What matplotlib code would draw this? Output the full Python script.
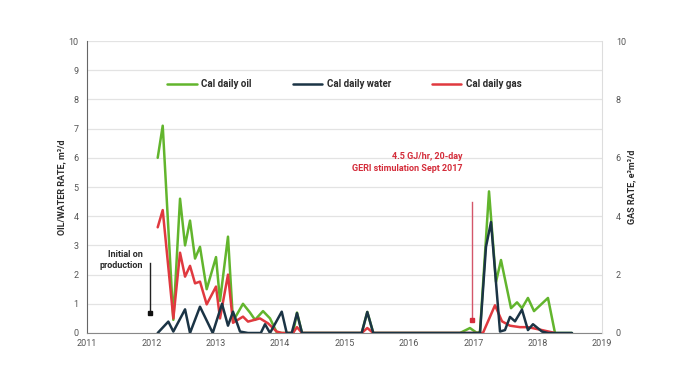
import matplotlib.pyplot as plt

plt.rcParams['font.family'] = ['Roboto', 'DejaVu Sans']

# decimal-year positions and rates
oil_t = [2012.098, 2012.176, 2012.341, 2012.445, 2012.523, 2012.600, 2012.678, 2012.755,
         2012.859, 2013.004, 2013.066, 2013.190, 2013.268, 2013.423, 2013.532, 2013.610,
         2013.734, 2013.843, 2013.947, 2014.025, 2014.200, 2014.262, 2014.340, 2015.267,
         2015.354, 2015.447, 2016.794, 2016.949, 2017.058, 2017.105, 2017.245, 2017.354,
         2017.431, 2017.587, 2017.680, 2017.757, 2017.850, 2017.944, 2018.161, 2018.270,
         2018.534]
oil = [6.0, 7.1, 0.45, 4.6, 3.0, 3.85, 2.55, 2.95,
       1.5, 2.6, 1.1, 3.3, 0.4, 1.0, 0.7, 0.45,
       0.75, 0.5, 0.02, 0.0, 0.0, 0.7, 0.0, 0.0,
       0.72, 0.0, 0.0, 0.17, 0.0, 0.05, 4.85, 1.75,
       2.5, 0.85, 1.05, 0.85, 1.2, 0.75, 1.2, 0.0,
       0.0]

water_t = [2012.098, 2012.263, 2012.341, 2012.523, 2012.600, 2012.755, 2012.953, 2013.097,
           2013.190, 2013.268, 2013.377, 2013.500, 2013.700, 2013.765, 2013.843, 2014.025,
           2014.102, 2014.180, 2014.262, 2014.340, 2015.267, 2015.354, 2015.447, 2017.105,
           2017.198, 2017.276, 2017.416, 2017.493, 2017.571, 2017.649, 2017.757, 2017.850,
           2017.928, 2018.068, 2018.161, 2018.534]
water = [0.0, 0.39, 0.05, 0.81, 0.0, 0.9, 0.0, 1.0,
         0.25, 0.73, 0.05, 0.0, 0.0, 0.3, 0.0, 0.73,
         0.0, 0.0, 0.68, 0.0, 0.0, 0.72, 0.0, 0.0,
         2.95, 3.8, 0.05, 0.1, 0.55, 0.4, 0.8, 0.1,
         0.3, 0.05, 0.0, 0.0]

gas_t = [2012.098, 2012.176, 2012.341, 2012.445, 2012.523, 2012.600, 2012.678, 2012.755,
         2012.859, 2013.004, 2013.066, 2013.190, 2013.268, 2013.423, 2013.501, 2013.687,
         2013.812, 2013.947, 2014.025, 2014.200, 2014.262, 2014.340, 2015.267, 2015.354,
         2015.447, 2017.151, 2017.338, 2017.447, 2017.571, 2017.726, 2017.850, 2018.068,
         2018.270]
gas = [3.62, 4.21, 0.5, 2.75, 1.93, 2.3, 1.7, 1.76,
       0.98, 1.59, 0.5, 2.0, 0.35, 0.56, 0.39, 0.5,
       0.33, 0.05, 0.0, 0.0, 0.2, 0.0, 0.0, 0.17,
       0.0, 0.0, 0.95, 0.4, 0.25, 0.2, 0.2, 0.1,
       0.0]

years = list(range(2011, 2020))
left_ticks = list(range(0, 11))
right_ticks = [0, 2, 4, 6, 8, 10]

green = '#62b52d'
navy = '#1b3445'
red = '#e0393f'
txt = '#2b2b2b'

fig = plt.figure(figsize=(6.89, 3.8), dpi=100)
ax1 = fig.add_axes([0.1263, 0.1237, 0.7474, 0.7683])
ax2 = ax1.twinx()

style = dict(lw=1.8, solid_joinstyle='round', solid_capstyle='round')
ax1.plot(oil_t, oil, color=green, label='Cal daily oil', zorder=3, **style)
ax1.plot(water_t, water, color=navy, label='Cal daily water', zorder=5, **style)
ax1.plot(gas_t, gas, color=red, label='Cal daily gas', zorder=4, **style)

ax1.set_xlim(2011, 2019)
ax1.set_ylim(0, 10)
ax2.set_ylim(0, 10)
ax1.set_xticks(years)
ax1.set_xticklabels([str(y) for y in years])
ax1.set_yticks(left_ticks)
ax2.set_yticks(right_ticks)

ax1.grid(axis='y', color='#e3e3e3', lw=0.9)
ax1.set_axisbelow(True)
for ax in (ax1, ax2):
    ax.spines['top'].set_visible(False)
    ax.tick_params(length=0, labelsize=6.5, labelcolor='#555555')
ax1.spines['left'].set_color('#666666')
ax1.spines['bottom'].set_color('#888888')
ax1.spines['right'].set_visible(False)
ax2.spines['left'].set_visible(False)
ax2.spines['bottom'].set_visible(False)
ax2.spines['right'].set_color('#dddddd')
ax1.tick_params(axis='y', pad=6)
ax1.tick_params(axis='x', pad=4)
ax2.tick_params(axis='y', pad=10)

ax1.set_ylabel('OIL/WATER RATE, m³/d', fontsize=6.5, fontweight='bold', color=txt, labelpad=2)
ax2.set_ylabel('GAS RATE, e³m³/d', fontsize=6.5, fontweight='bold', color=txt,
               rotation=90, labelpad=1)

leg = ax1.legend(loc='center', bbox_to_anchor=(0.5, 0.853), ncol=3, frameon=False,
                 handlelength=3.0, columnspacing=4.2, handletextpad=0.5,
                 prop={'size': 7, 'weight': 'bold'})
for t in leg.get_texts():
    t.set_color(txt)

# annotations
ax1.plot([2011.983, 2011.983], [2.41, 0.68], color='#222222', lw=1.0, zorder=6)
ax1.plot([2011.983], [0.68], marker='s', ms=3.5, color='#111111', zorder=6)
ax1.text(2011.87, 2.5, 'Initial on\nproduction', ha='right', va='center', fontsize=6.5,
         fontweight='bold', color=txt, multialignment='right', linespacing=1.3)

ax1.plot([2016.98, 2016.98], [4.49, 0.45], color='#d4566a', lw=1.0, zorder=6)
ax1.plot([2016.98], [0.45], marker='s', ms=3.5, color='#d42d3b', zorder=6)
ax1.text(2016.84, 5.84, '4.5 GJ/hr, 20-day\nGERI stimulation Sept 2017', ha='right',
         va='center', fontsize=6.5, fontweight='bold', color='#d42d3b',
         multialignment='right', linespacing=1.3)

fig.savefig('out.png', dpi=100)
